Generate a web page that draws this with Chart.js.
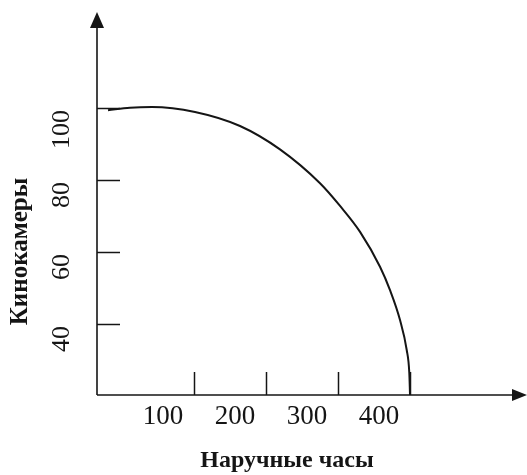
<!DOCTYPE html>
<html><head><meta charset="utf-8">
<script src="https://cdn.jsdelivr.net/npm/chart.js@4"></script>
<style>html,body{margin:0;padding:0;background:#fff;} #wrap{width:527px;height:475px;position:relative;}</style>
</head><body><div id="wrap"><canvas id="c"></canvas></div>
<script>
// Tick labels
const xTickValues = [100, 200, 300, 400];
const yTickValues = [40, 60, 80, 100];
// Curve (production possibilities frontier)
const watches = [-19.4, 11.1, 41.7, 101.4, 163.9, 219.4, 275.0, 302.8, 330.6, 358.3, 372.2, 386.1, 395.4, 399.0, 400];
const cameras = [99.4, 100.1, 100.3, 98.9, 95.0, 88.5, 79.1, 72.8, 65.6, 55.9, 49.4, 41.1, 32.8, 26.4, 20.3];
const xTitle = 'Наручные часы';
const yTitle = 'Кинокамеры';

const INK = '#151515';

const axesPlugin = {
  id: 'axesPlugin',
  afterDatasetsDraw(chart) {
    const {ctx, scales: {x, y}, chartArea} = chart;
    const ox = chartArea.left, oy = chartArea.bottom;
    ctx.save();
    ctx.strokeStyle = INK; ctx.fillStyle = INK; ctx.lineWidth = 1.6;
    // y axis with arrow
    ctx.beginPath(); ctx.moveTo(ox, oy); ctx.lineTo(ox, 24); ctx.stroke();
    ctx.beginPath(); ctx.moveTo(ox, 12); ctx.lineTo(ox - 7, 28); ctx.lineTo(ox + 7, 28); ctx.closePath(); ctx.fill();
    // x axis with arrow
    ctx.beginPath(); ctx.moveTo(ox, oy); ctx.lineTo(516, oy); ctx.stroke();
    ctx.beginPath(); ctx.moveTo(527, oy); ctx.lineTo(512, oy - 6); ctx.lineTo(512, oy + 6); ctx.closePath(); ctx.fill();
    // inward tick marks
    ctx.lineWidth = 1.5;
    yTickValues.forEach(v => {
      const py = Math.round(y.getPixelForValue(v)) + 0.5;
      ctx.beginPath(); ctx.moveTo(ox, py); ctx.lineTo(ox + 23, py); ctx.stroke();
    });
    xTickValues.forEach(v => {
      const px = Math.round(x.getPixelForValue(v)) + 0.5;
      ctx.beginPath(); ctx.moveTo(px, oy); ctx.lineTo(px, oy - 23); ctx.stroke();
    });
    ctx.restore();
  }
};

new Chart(document.getElementById('c'), {
  type: 'line',
  data: {
    datasets: [{
      data: watches.map((w, i) => ({x: w, y: cameras[i]})),
      borderColor: INK,
      borderWidth: 2,
      pointRadius: 0,
      cubicInterpolationMode: 'monotone',
      fill: false,
      clip: false
    }]
  },
  options: {
    responsive: true,
    maintainAspectRatio: false,
    animation: false,
    devicePixelRatio: 1,
    layout: {padding: {top: 108, right: 50, bottom: 0, left: 0}},
    plugins: {legend: {display: false}, tooltip: {enabled: false}},
    scales: {
      x: {
        type: 'linear',
        min: -34.7,
        max: 493,
        afterBuildTicks: s => { s.ticks = xTickValues.map(v => ({value: v})); },
        afterFit: s => { s.height = 80; },
        grid: {display: false, drawTicks: false},
        border: {display: false},
        ticks: {
          autoSkip: false, maxRotation: 0, minRotation: 0,
          labelOffset: -31, padding: 6,
          color: INK,
          font: {family: '"Liberation Serif", "DejaVu Serif", serif', size: 27}
        },
        title: {
          display: true, text: xTitle, color: INK,
          padding: {top: 0, bottom: 0},
          font: {family: '"Liberation Serif", "DejaVu Serif", serif', size: 24, weight: 'bold'}
        }
      },
      y: {
        type: 'linear',
        min: 20.3,
        max: 100,
        afterBuildTicks: s => { s.ticks = yTickValues.map(v => ({value: v})); },
        afterFit: s => { s.width = 97; },
        grid: {display: false, drawTicks: false},
        border: {display: false},
        ticks: {
          autoSkip: false, minRotation: 90, maxRotation: 90,
          crossAlign: 'near', labelOffset: 2, padding: 35,
          color: INK,
          font: {family: '"Liberation Serif", "DejaVu Serif", serif', size: 26}
        },
        title: {
          display: true, text: yTitle, color: INK,
          padding: {top: 6, bottom: 0},
          font: {family: '"Liberation Serif", "DejaVu Serif", serif', size: 25, weight: 'bold'}
        }
      }
    }
  },
  plugins: [axesPlugin]
});
</script>
</body></html>
